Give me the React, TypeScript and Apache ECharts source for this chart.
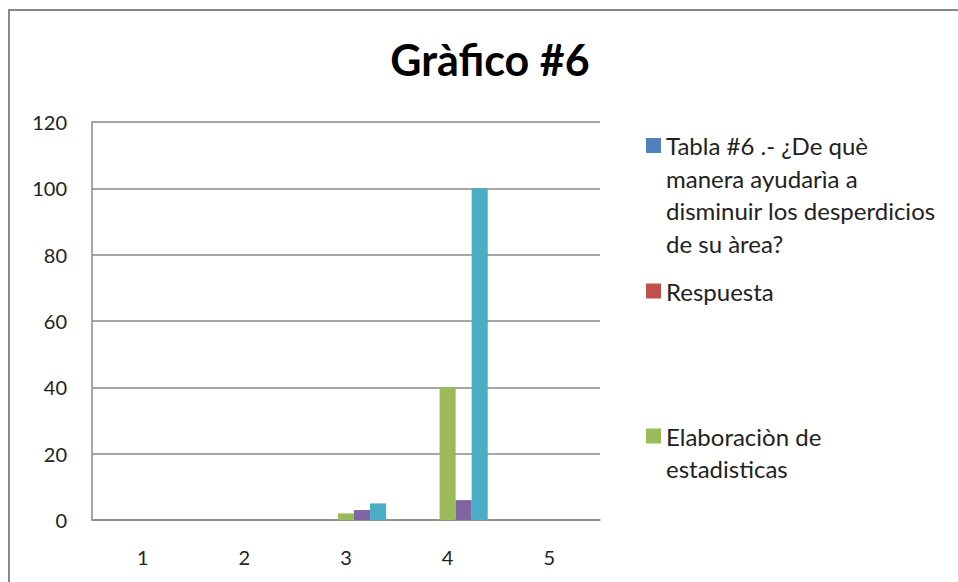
import React, { useEffect, useRef } from "react";
import * as echarts from "echarts";

const categories = ["1", "2", "3", "4", "5"];
const seriesNames = [
  "Tabla #6 .- ¿De què manera ayudarìa a disminuir los desperdicios de su àrea?",
  "Respuesta",
  "Elaboraciòn de estadisticas",
  "Serie 4",
  "Serie 5",
];
const legendLines = [
  ["Tabla #6 .- ¿De què", "manera ayudarìa a", "disminuir los desperdicios", "de su àrea?"],
  ["Respuesta"],
  ["Elaboraciòn de", "estadisticas"],
];
const seriesColors = ["#4F81BD", "#C0504D", "#9BBB59", "#8064A2", "#4BACC6"];
const seriesValues = [
  [0, 0, 0, 0, 0],
  [0, 0, 0, 0, 0],
  [0, 0, 2, 40, 0],
  [0, 0, 3, 6, 0],
  [0, 0, 5, 100, 0],
];
const yTicks = { min: 0, max: 120, interval: 20 };

const FONT = "Lato";
const LINE_H = 32.5;
const legendIconCenters = [140.5, 286, 431];

export default function App() {
  const ref = useRef<HTMLDivElement>(null);
  useEffect(() => {
    if (!ref.current) return;
    const chart = echarts.init(ref.current, undefined, { renderer: "svg" });
    const legends = legendLines.map((lines, i) => {
      const n = lines.length;
      const padded = new Array(n - 1).fill("").concat(lines);
      return {
        orient: "vertical",
        left: 641,
        top: legendIconCenters[i] - ((2 * n - 1) * LINE_H) / 2,
        data: [seriesNames[i]],
        icon: "rect",
        itemWidth: 15,
        itemHeight: 15,
        selectedMode: false,
        formatter: () => padded.join("\n"),
        textStyle: {
          fontFamily: FONT,
          fontSize: 24,
          color: "#222",
          lineHeight: LINE_H,
        },
      };
    });
    chart.setOption({
      animation: false,
      backgroundColor: "#fff",
      title: {
        text: "Gràfico #6",
        left: 485,
        textAlign: "center",
        top: 33,
        textStyle: { fontFamily: FONT, fontWeight: "bold", fontSize: 43, color: "#000" },
      },
      graphic: [
        {
          type: "rect",
          shape: { x: 9, y: 10, width: 1200, height: 1200 },
          style: { fill: "none", stroke: "#888", lineWidth: 2 },
          silent: true,
        },
      ],
      legend: legends,
      grid: { left: 92, right: 358, top: 122, bottom: 62, containLabel: false },
      xAxis: {
        type: "category",
        data: categories,
        axisLine: { lineStyle: { color: "#888", width: 1.5 } },
        axisTick: { show: false },
        axisLabel: { fontFamily: FONT, fontSize: 20, color: "#222", margin: 27 },
      },
      yAxis: {
        type: "value",
        min: yTicks.min,
        max: yTicks.max,
        interval: yTicks.interval,
        axisLine: { show: true, lineStyle: { color: "#888", width: 1.5 } },
        axisTick: { show: false },
        splitLine: { lineStyle: { color: "#888", width: 1.5 } },
        axisLabel: { fontFamily: FONT, fontSize: 20, color: "#222", margin: 25 },
      },
      series: seriesNames.map((name, i) => ({
        type: "bar",
        name,
        data: seriesValues[i],
        barGap: "0%",
        barCategoryGap: "21%",
        itemStyle: { color: seriesColors[i] },
      })),
    });
    return () => chart.dispose();
  }, []);
  return (
    <div
      ref={ref}
      style={{ position: "absolute", left: 0, top: 0, width: 958, height: 582 }}
    />
  );
}
